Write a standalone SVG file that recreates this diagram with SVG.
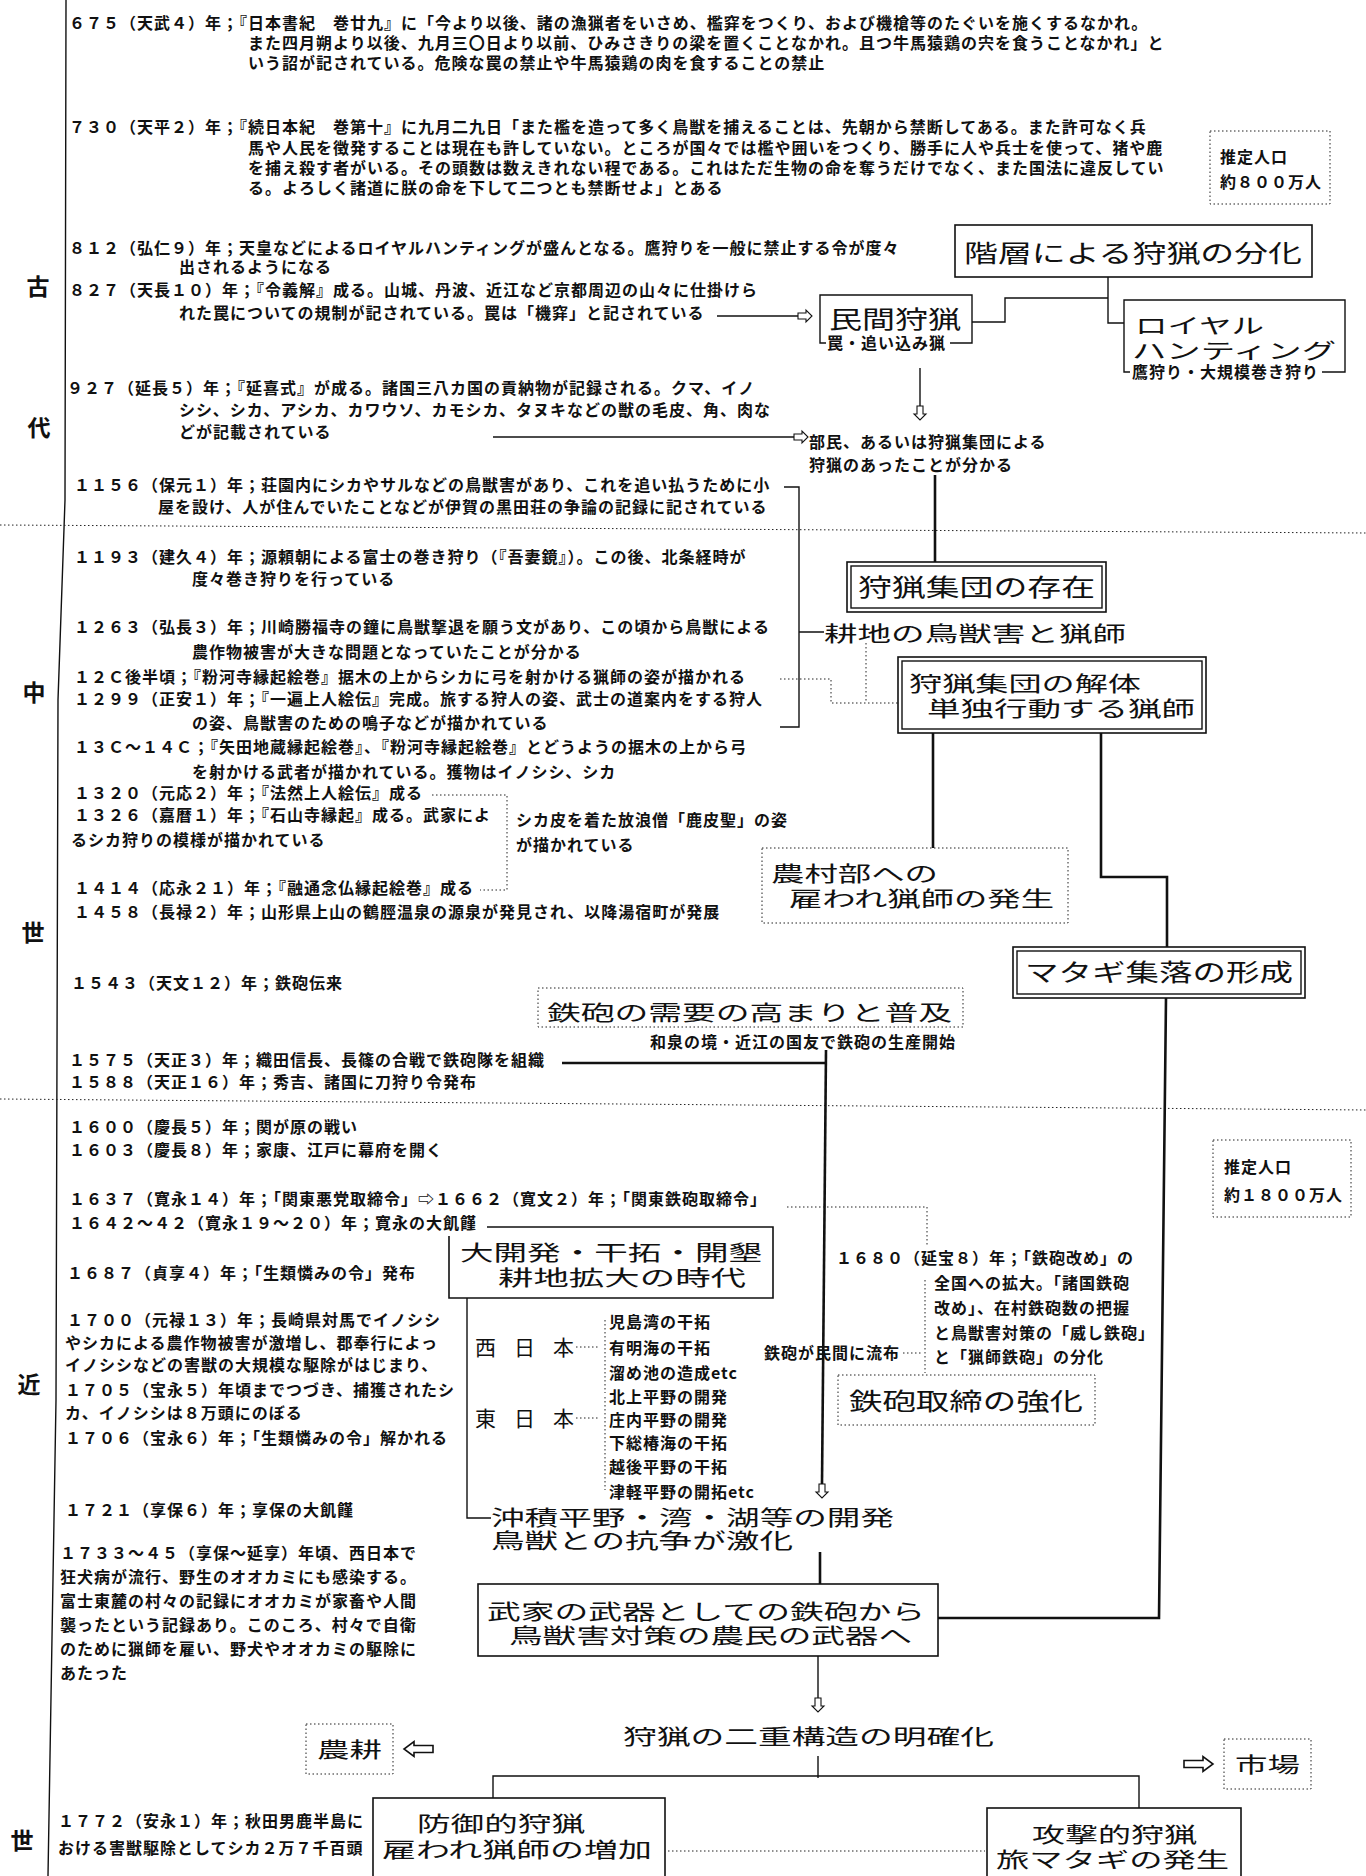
<svg xmlns="http://www.w3.org/2000/svg" width="1366" height="1876" viewBox="0 0 1366 1876">
<style>
text{font-family:"Noto Sans CJK JP","DejaVu Sans",sans-serif;fill:#111}
.t{font-size:16px;letter-spacing:1px;font-weight:bold}
.h{font-size:24px;font-weight:normal}
.h2{font-size:21px;font-weight:normal}
.e{font-size:23px;font-weight:bold}
.b{fill:#fff;stroke:#111;stroke-width:1.6}
.d{fill:none;stroke:#222;stroke-width:1;stroke-dasharray:1.5 2.5}
.c{fill:none;stroke:#111;stroke-width:1.4}
.k{fill:none;stroke:#111;stroke-width:2.6}
</style>
<defs>
<path id="ar" d="M0,-3 H8 V-6 L14,0 L8,6 V3 H0 Z" fill="#fff" stroke="#111" stroke-width="1.1"/>
<path id="arL" d="M0,-3.5 H19 V-7.5 L29,0 L19,7.5 V3.5 H0 Z" fill="#fff" stroke="#111" stroke-width="1.6"/>
</defs>
<rect width="1366" height="1876" fill="#fff"/>

<g id="timeline">
<path d="M66,0 L65,500 L58,700 L56,1400 L48,1876" class="c"/>
<line x1="0" y1="525" x2="1366" y2="533" class="d"/>
<line x1="0" y1="1099" x2="1366" y2="1110" class="d"/>
<text class="e" x="38" y="295" text-anchor="middle">古</text>
<text class="e" x="39" y="436" text-anchor="middle">代</text>
<text class="e" x="34" y="701" text-anchor="middle">中</text>
<text class="e" x="33" y="941" text-anchor="middle">世</text>
<text class="e" x="29" y="1393" text-anchor="middle">近</text>
<text class="e" x="22" y="1849" text-anchor="middle">世</text>
</g>

<g id="chronology">
<text class="t" x="69" y="29">６７５（天武４）年；『日本書紀　巻廿九』に「今より以後、諸の漁猟者をいさめ、檻穽をつくり、および機槍等のたぐいを施くするなかれ。</text>
<text class="t" x="248" y="49">また四月朔より以後、九月三〇日より以前、ひみさきりの梁を置くことなかれ。且つ牛馬猿鶏の宍を食うことなかれ」と</text>
<text class="t" x="248" y="69">いう詔が記されている。危険な罠の禁止や牛馬猿鶏の肉を食することの禁止</text>
<text class="t" x="69" y="133">７３０（天平２）年；『続日本紀　巻第十』に九月二九日「また檻を造って多く鳥獣を捕えることは、先朝から禁断してある。また許可なく兵</text>
<text class="t" x="248" y="154">馬や人民を徴発することは現在も許していない。ところが国々では檻や囲いをつくり、勝手に人や兵士を使って、猪や鹿</text>
<text class="t" x="248" y="174">を捕え殺す者がいる。その頭数は数えきれない程である。これはただ生物の命を奪うだけでなく、また国法に違反してい</text>
<text class="t" x="248" y="194">る。よろしく諸道に朕の命を下して二つとも禁断せよ」とある</text>
<text class="t" x="69" y="254">８１２（弘仁９）年；天皇などによるロイヤルハンティングが盛んとなる。鷹狩りを一般に禁止する令が度々</text>
<text class="t" x="179" y="273">出されるようになる</text>
<text class="t" x="69" y="296">８２７（天長１０）年；『令義解』成る。山城、丹波、近江など京都周辺の山々に仕掛けら</text>
<text class="t" x="179" y="319">れた罠についての規制が記されている。罠は「機穽」と記されている</text>
<text class="t" x="67" y="394">９２７（延長５）年；『延喜式』が成る。諸国三八カ国の貢納物が記録される。クマ、イノ</text>
<text class="t" x="179" y="416">シシ、シカ、アシカ、カワウソ、カモシカ、タヌキなどの獣の毛皮、角、肉な</text>
<text class="t" x="179" y="438">どが記載されている</text>
<text class="t" x="74" y="491">１１５６（保元１）年；荘園内にシカやサルなどの鳥獣害があり、これを追い払うために小</text>
<text class="t" x="158" y="513">屋を設け、人が住んでいたことなどが伊賀の黒田荘の争論の記録に記されている</text>
<text class="t" x="74" y="563">１１９３（建久４）年；源頼朝による富士の巻き狩り（『吾妻鏡』）。この後、北条経時が</text>
<text class="t" x="192" y="585">度々巻き狩りを行っている</text>
<text class="t" x="74" y="633">１２６３（弘長３）年；川崎勝福寺の鐘に鳥獣撃退を願う文があり、この頃から鳥獣による</text>
<text class="t" x="192" y="658">農作物被害が大きな問題となっていたことが分かる</text>
<text class="t" x="74" y="683">１２Ｃ後半頃；『粉河寺縁起絵巻』据木の上からシカに弓を射かける猟師の姿が描かれる</text>
<text class="t" x="74" y="705">１２９９（正安１）年；『一遍上人絵伝』完成。旅する狩人の姿、武士の道案内をする狩人</text>
<text class="t" x="192" y="729">の姿、鳥獣害のための鳴子などが描かれている</text>
<text class="t" x="74" y="753">１３Ｃ～１４Ｃ；『矢田地蔵縁起絵巻』、『粉河寺縁起絵巻』とどうようの据木の上から弓</text>
<text class="t" x="192" y="778">を射かける武者が描かれている。獲物はイノシシ、シカ</text>
<text class="t" x="74" y="799">１３２０（元応２）年；『法然上人絵伝』成る</text>
<text class="t" x="74" y="821">１３２６（嘉暦１）年；『石山寺縁起』成る。武家によ</text>
<text class="t" x="71" y="846">るシカ狩りの模様が描かれている</text>
<text class="t" x="516" y="826">シカ皮を着た放浪僧「鹿皮聖」の姿</text>
<text class="t" x="516" y="851">が描かれている</text>
<text class="t" x="74" y="894">１４１４（応永２１）年；『融通念仏縁起絵巻』成る</text>
<text class="t" x="74" y="918">１４５８（長禄２）年；山形県上山の鶴脛温泉の源泉が発見され、以降湯宿町が発展</text>
<text class="t" x="71" y="989">１５４３（天文１２）年；鉄砲伝来</text>
<text class="t" x="69" y="1066">１５７５（天正３）年；織田信長、長篠の合戦で鉄砲隊を組織</text>
<text class="t" x="69" y="1088">１５８８（天正１６）年；秀吉、諸国に刀狩り令発布</text>
<text class="t" x="69" y="1133">１６００（慶長５）年；関が原の戦い</text>
<text class="t" x="69" y="1156">１６０３（慶長８）年；家康、江戸に幕府を開く</text>
<text class="t" x="69" y="1205">１６３７（寛永１４）年；「関東悪党取締令」⇨１６６２（寛文２）年；「関東鉄砲取締令」</text>
<text class="t" x="69" y="1229">１６４２～４２（寛永１９～２０）年；寛永の大飢饉</text>
<text class="t" x="67" y="1279">１６８７（貞享４）年；「生類憐みの令」発布</text>
<text class="t" x="67" y="1326">１７００（元禄１３）年；長崎県対馬でイノシシ</text>
<text class="t" x="65" y="1349">やシカによる農作物被害が激増し、郡奉行によっ</text>
<text class="t" x="65" y="1371">イノシシなどの害獣の大規模な駆除がはじまり、</text>
<text class="t" x="65" y="1396">１７０５（宝永５）年頃までつづき、捕獲されたシ</text>
<text class="t" x="65" y="1419">カ、イノシシは８万頭にのぼる</text>
<text class="t" x="65" y="1444">１７０６（宝永６）年；「生類憐みの令」解かれる</text>
<text class="t" x="65" y="1516">１７２１（享保６）年；享保の大飢饉</text>
<text class="t" x="60" y="1559">１７３３～４５（享保～延享）年頃、西日本で</text>
<text class="t" x="60" y="1583">狂犬病が流行、野生のオオカミにも感染する。</text>
<text class="t" x="60" y="1607">富士東麓の村々の記録にオオカミが家畜や人間</text>
<text class="t" x="60" y="1631">襲ったという記録あり。このころ、村々で自衛</text>
<text class="t" x="60" y="1655">のために猟師を雇い、野犬やオオカミの駆除に</text>
<text class="t" x="60" y="1679">あたった</text>
<text class="t" x="58" y="1827">１７７２（安永１）年；秋田男鹿半島に</text>
<text class="t" x="58" y="1854">おける害獣駆除としてシカ２万７千百頭</text>
<text class="t" x="836" y="1264">１６８０（延宝８）年；「鉄砲改め」の</text>
<text class="t" x="934" y="1289">全国への拡大。「諸国鉄砲</text>
<text class="t" x="934" y="1314">改め」、在村鉄砲数の把握</text>
<text class="t" x="934" y="1339">と鳥獣害対策の「威し鉄砲」</text>
<text class="t" x="934" y="1363">と「猟師鉄砲」の分化</text>
</g>

<g id="connectors">
<line x1="717" y1="316" x2="798" y2="316" class="c"/>
<use href="#ar" x="798" y="316"/>
<path d="M1108,277 V323 H1124 M1108,298 H1005 V322 H972" class="c"/>
<line x1="920" y1="368" x2="920" y2="406" class="c"/>
<use href="#ar" transform="translate(920,406) rotate(90)"/>
<line x1="493" y1="437" x2="794" y2="437" class="c"/>
<use href="#ar" x="794" y="437"/>
<line x1="935" y1="475" x2="935" y2="562" class="k"/>
<path d="M784,487 H799 V727 H780 M799,632 H824" class="c"/>
<path d="M780,679 H831 V703 H898 M866,643 V703" class="d"/>
<line x1="933" y1="733" x2="933" y2="848" class="k"/>
<path d="M1101,733 V877 H1167 V947" class="k"/>
<path d="M1166,998 L1159,1618 H938" class="k"/>
<path d="M432,795 H507 V890 H480" class="d"/>
<path d="M562,1063 H826" class="k"/>
<path d="M826,1050 L822,1484" class="k"/>
<use href="#ar" transform="translate(822,1484) rotate(90)"/>
<path d="M787,1207 H927 V1245 M925,1280 V1373" class="d"/>
<path d="M576,1347 H598 M605,1320 V1393 M576,1418 H598 M605,1397 V1490 M903,1353 H923" class="d"/>
<path d="M467,1298 V1518 H491" class="c"/>
<line x1="820" y1="1552" x2="820" y2="1584" class="k"/>
<line x1="818" y1="1656" x2="818" y2="1698" class="c"/>
<use href="#ar" transform="translate(818,1698) rotate(90)"/>
<path d="M818,1756 V1778 M493,1798 V1776 H1139 V1808" class="c"/>
<use href="#arL" transform="translate(433,1749) rotate(180)"/>
<use href="#arL" x="1184" y="1764"/>
<line x1="668" y1="1851" x2="985" y2="1851" class="d"/>
</g>

<g id="pop1"><rect x="1210" y="131" width="120" height="73" class="d"/>
<text class="t" x="1220" y="163">推定人口</text><text class="t" x="1220" y="188">約８００万人</text></g>

<g id="kaiso"><rect x="955" y="225" width="357" height="52" class="b"/>
<text class="h" x="964" y="262" textLength="338" lengthAdjust="spacingAndGlyphs">階層による狩猟の分化</text></g>

<g id="minkan"><path d="M826,343 H820 V295 H972 V343 H950" class="c"/>
<text class="h" x="829" y="328" textLength="132" lengthAdjust="spacingAndGlyphs">民間狩猟</text>
<text class="t" x="827" y="349">罠・追い込み猟</text></g>

<g id="royal"><path d="M1130,372 H1124 V300 H1345 V372 H1322" class="c"/>
<text class="h2" x="1135" y="333" textLength="129" lengthAdjust="spacingAndGlyphs">ロイヤル</text>
<text class="h2" x="1132" y="358" textLength="204" lengthAdjust="spacingAndGlyphs">ハンティング</text>
<text class="t" x="1132" y="378">鷹狩り・大規模巻き狩り</text></g>

<g id="bumin"><text class="t" x="809" y="448">部民、あるいは狩猟集団による</text>
<text class="t" x="809" y="471">狩猟のあったことが分かる</text></g>

<g id="sonzai"><rect x="847" y="562" width="259" height="50" class="b" stroke-width="2.4"/>
<rect x="851" y="566" width="251" height="42" class="c" stroke-width="1"/>
<text class="h" x="858" y="596" textLength="237" lengthAdjust="spacingAndGlyphs">狩猟集団の存在</text></g>

<g id="kouchi"><text class="h2" x="824" y="641" textLength="302" lengthAdjust="spacingAndGlyphs">耕地の鳥獣害と猟師</text></g>

<g id="kaitai"><rect x="898" y="657" width="308" height="76" class="b" stroke-width="2.4"/>
<rect x="902" y="661" width="300" height="68" class="c" stroke-width="1"/>
<text class="h2" x="909" y="691" textLength="232" lengthAdjust="spacingAndGlyphs">狩猟集団の解体</text>
<text class="h2" x="927" y="716" textLength="268" lengthAdjust="spacingAndGlyphs">単独行動する猟師</text></g>

<g id="noson"><rect x="762" y="848" width="306" height="75" class="d"/>
<text class="h2" x="771" y="881" textLength="167" lengthAdjust="spacingAndGlyphs">農村部への</text>
<text class="h2" x="789" y="906" textLength="265" lengthAdjust="spacingAndGlyphs">雇われ猟師の発生</text></g>

<g id="matagi"><rect x="1013" y="947" width="292" height="51" class="b" stroke-width="2.4"/>
<rect x="1017" y="951" width="284" height="43" class="c" stroke-width="1"/>
<text class="h" x="1025" y="981" textLength="268" lengthAdjust="spacingAndGlyphs">マタギ集落の形成</text></g>

<g id="teppo"><rect x="538" y="988" width="425" height="39" class="d"/>
<text class="h2" x="547" y="1020" textLength="405" lengthAdjust="spacingAndGlyphs">鉄砲の需要の高まりと普及</text>
<text class="t" x="650" y="1048">和泉の境・近江の国友で鉄砲の生産開始</text></g>

<g id="pop2"><rect x="1213" y="1140" width="138" height="77" class="d"/>
<text class="t" x="1224" y="1173">推定人口</text><text class="t" x="1224" y="1201">約１８００万人</text></g>

<g id="daikaihatsu"><path d="M487,1227 H773 V1298 H449 V1236" class="b" fill="none"/>
<text class="h2" x="460" y="1260" textLength="302" lengthAdjust="spacingAndGlyphs">大開発・干拓・開墾</text>
<text class="h2" x="498" y="1285" textLength="248" lengthAdjust="spacingAndGlyphs">耕地拡大の時代</text></g>

<g id="regions">
<text class="h2" x="475" y="1355" textLength="99" lengthAdjust="spacing" font-weight="bold">西日本</text>
<text class="h2" x="475" y="1426" textLength="99" lengthAdjust="spacing" font-weight="bold">東日本</text>
<text class="t" x="609" y="1328">児島湾の干拓</text>
<text class="t" x="609" y="1354">有明海の干拓</text>
<text class="t" x="609" y="1379">溜め池の造成etc</text>
<text class="t" x="609" y="1403">北上平野の開発</text>
<text class="t" x="609" y="1426">庄内平野の開発</text>
<text class="t" x="609" y="1449">下総椿海の干拓</text>
<text class="t" x="609" y="1473">越後平野の干拓</text>
<text class="t" x="609" y="1498">津軽平野の開拓etc</text>
<text class="t" x="764" y="1359">鉄砲が民間に流布</text>
</g>

<g id="torishimari"><rect x="838" y="1375" width="257" height="50" class="d"/>
<text class="h" x="849" y="1410" textLength="234" lengthAdjust="spacingAndGlyphs">鉄砲取締の強化</text></g>

<g id="chuseki"><text class="h2" x="491" y="1525" textLength="403" lengthAdjust="spacingAndGlyphs">沖積平野・湾・湖等の開発</text>
<text class="h2" x="491" y="1548" textLength="302" lengthAdjust="spacingAndGlyphs">鳥獣との抗争が激化</text></g>

<g id="buke"><rect x="478" y="1584" width="460" height="72" class="b"/>
<text class="h2" x="487" y="1619" textLength="438" lengthAdjust="spacingAndGlyphs">武家の武器としての鉄砲から</text>
<text class="h2" x="509" y="1643" textLength="403" lengthAdjust="spacingAndGlyphs">鳥獣害対策の農民の武器へ</text></g>

<g id="noko"><rect x="306" y="1724" width="87" height="50" class="d"/>
<text class="h2" x="317" y="1757" textLength="65" lengthAdjust="spacingAndGlyphs" font-weight="bold">農耕</text></g>

<g id="nijyu"><text class="h2" x="623" y="1744" textLength="371" lengthAdjust="spacingAndGlyphs">狩猟の二重構造の明確化</text></g>

<g id="ichiba"><rect x="1224" y="1739" width="87" height="50" class="d"/>
<text class="h2" x="1235" y="1772" textLength="65" lengthAdjust="spacingAndGlyphs" font-weight="bold">市場</text></g>

<g id="bogyo"><rect x="373" y="1798" width="292" height="90" class="b"/>
<text class="h2" x="417" y="1831" textLength="168" lengthAdjust="spacingAndGlyphs">防御的狩猟</text>
<text class="h2" x="382" y="1857" textLength="270" lengthAdjust="spacingAndGlyphs">雇われ猟師の増加</text></g>

<g id="kogeki"><rect x="987" y="1808" width="254" height="80" class="b"/>
<text class="h2" x="1032" y="1842" textLength="165" lengthAdjust="spacingAndGlyphs">攻撃的狩猟</text>
<text class="h2" x="996" y="1867" textLength="233" lengthAdjust="spacingAndGlyphs">旅マタギの発生</text></g>
</svg>
